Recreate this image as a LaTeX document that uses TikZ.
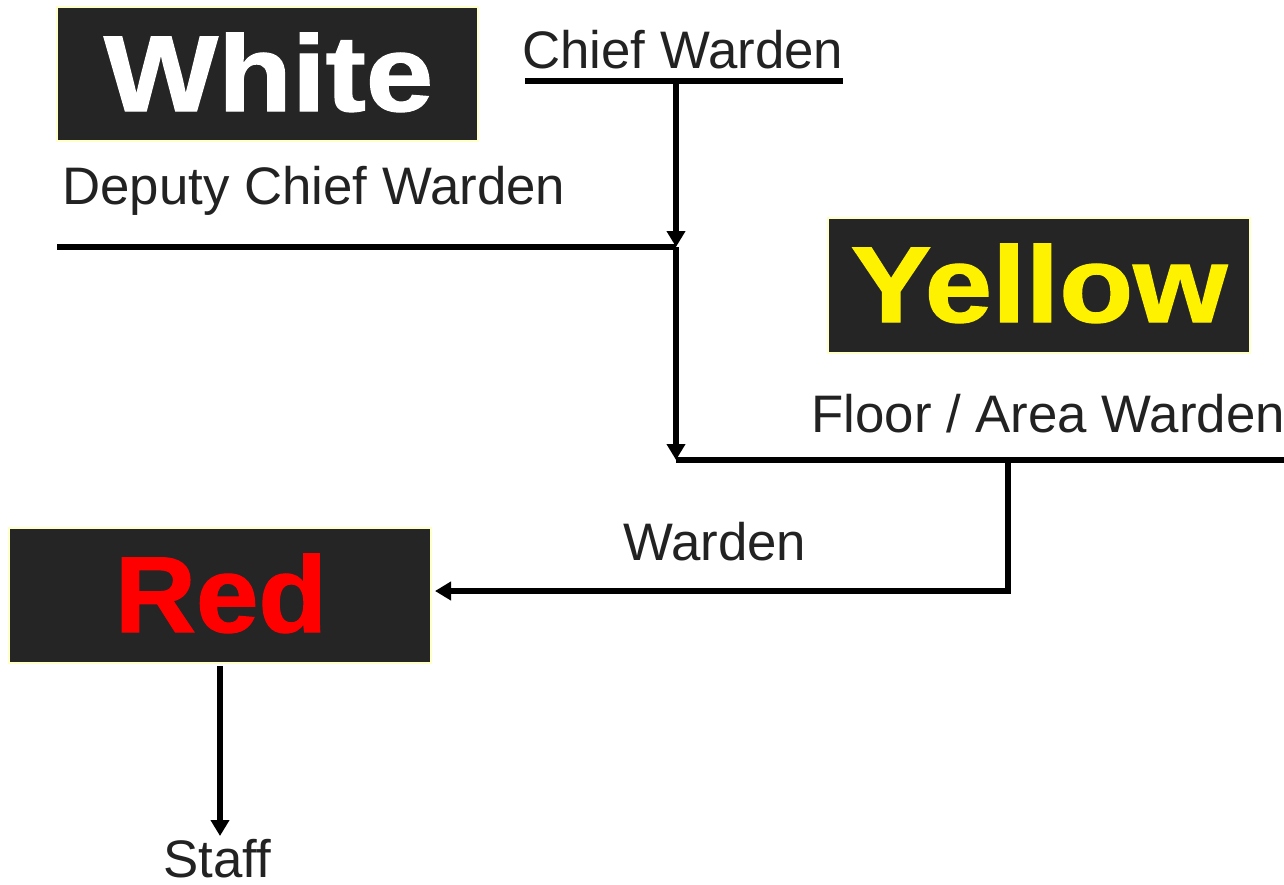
\documentclass[tikz,border=0pt]{standalone}
\usepackage{fontspec}
\setmainfont{Liberation Sans}
\newfontfamily\heavyfont[FakeBold=1.2]{Liberation Sans Bold}
\usetikzlibrary{arrows.meta}
\definecolor{boxfill}{HTML}{252525}
\definecolor{boxedge}{HTML}{FFFFC8}
\definecolor{txt}{HTML}{222222}
\tikzset{
  colbox/.style={draw=boxedge, line width=1pt, fill=boxfill},
  bigword/.style={font=\fontsize{54}{58}\heavyfont, inner sep=0pt, anchor=base},
  lbl/.style={font=\fontsize{26.4}{30}\selectfont, text=txt, inner sep=0pt, anchor=base west},
  wire/.style={line width=3pt, line cap=rect},
  arr/.style={line width=3pt, -{Triangle[length=8pt,width=9pt]}},
}
\begin{document}
\begin{tikzpicture}[x=0.5pt,y=-0.5pt]
\useasboundingbox (0,0) rectangle (1284,884);
% boxes
\node[colbox, minimum width=210.5pt, minimum height=67pt] (whitebox) at (267.5,74) {};
\node[bigword, text=white] (whitetxt) at (268.5,111) {\scalebox{1.12}[1]{White}};
\node[colbox, minimum width=211pt, minimum height=67.5pt] (yellowbox) at (1039,285.5) {};
\node[bigword, text=yellow] (yellowtxt) at (1039,322) {\scalebox{1.12}[1]{Yellow}};
\node[colbox, minimum width=211pt, minimum height=67.5pt] (redbox) at (220,595.5) {};
\node[bigword, text=red] (redtxt) at (221,632) {\scalebox{1.04}[1]{Red}};
% labels
\node[lbl] (chief) at (522,68) {Chief Warden};
\node[lbl] (deputy) at (62,204) {Deputy Chief Warden};
\node[lbl] (floor) at (811,432) {Floor / Area Warden};
\node[lbl] (warden) at (623,560) {Warden};
\node[lbl] (staff) at (163,877) {Staff};
% coordinates
\coordinate (c1) at (525,81);
\coordinate (c2) at (843,81);
\coordinate (c3) at (676,81);
\coordinate (c4) at (676,247);
\coordinate (d1) at (57,247);
\coordinate (c5) at (676,460);
\coordinate (f2) at (1284,460);
\coordinate (f3) at (1008,460);
\coordinate (f4) at (1008,591);
\coordinate (r1) at (435,591);
\coordinate (s1) at (220,666);
\coordinate (s2) at (220,836);
% connectors
\draw[wire, line cap=butt] (c1) -- (c2);
\draw[arr] (c3) -- (c4);
\draw[wire, line cap=butt] (d1) -- (c4);
\draw[arr] (c4) -- (c5);
\draw[wire, line cap=butt] (c5) -- (f2);
\draw[wire] (f3) -- (f4);
\draw[arr] (f4) -- (r1);
\draw[arr] (s1) -- (s2);
\end{tikzpicture}
\end{document}
